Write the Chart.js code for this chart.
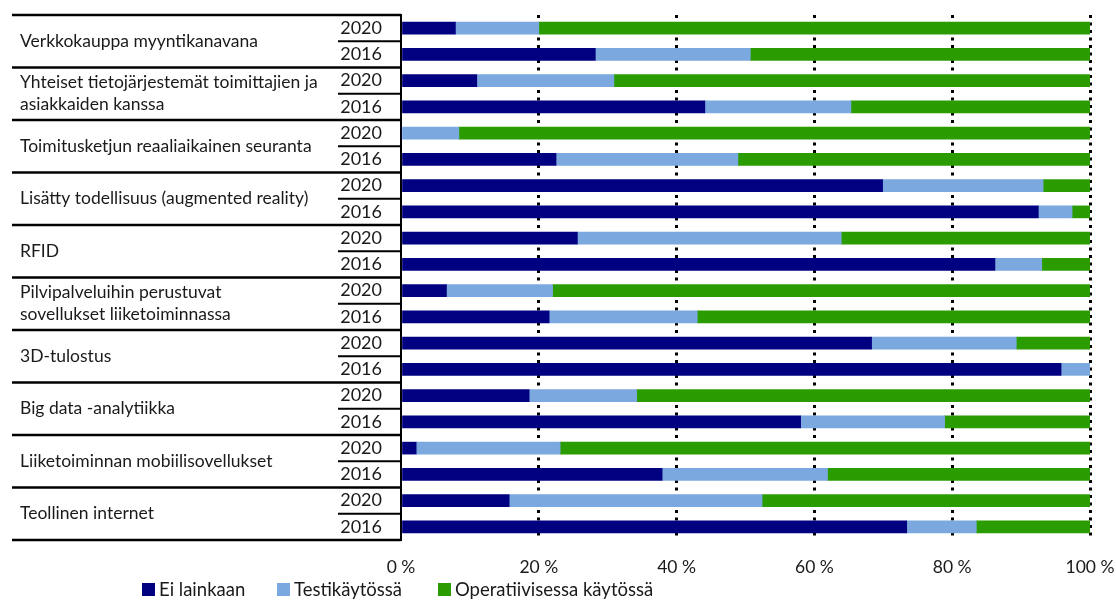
<!DOCTYPE html>
<html>
<head>
<meta charset="utf-8">
<script src="https://cdn.jsdelivr.net/npm/chart.js@4.4.1/dist/chart.umd.min.js"></script>
<style>
html,body{margin:0;padding:0;background:#fff;}
#wrap{position:relative;width:1116px;height:603px;overflow:hidden;}
#c{position:absolute;left:0;top:0;}
#legend{position:absolute;left:0;top:578px;width:1116px;height:22px;font-family:Lato,"Open Sans",sans-serif;font-size:18.5px;color:#1a1a1a;white-space:nowrap;}
#legend .item{position:absolute;top:0;display:flex;align-items:center;height:22px;}
#legend .item:nth-child(1){left:142px;}
#legend .item:nth-child(2){left:277px;}
#legend .item:nth-child(3){left:438px;}
#legend .sw{width:13px;height:13px;margin-right:4px;}
</style>
</head>
<body>
<div id="wrap">
<canvas id="c" width="1116" height="603"></canvas>
<div id="legend"></div>
</div>
<script>
// ---- data ----
const categories = [
  ["Verkkokauppa myyntikanavana"],
  ["Yhteiset tietojärjestemät toimittajien ja", "asiakkaiden kanssa"],
  ["Toimitusketjun reaaliaikainen seuranta"],
  ["Lisätty todellisuus (augmented reality)"],
  ["RFID"],
  ["Pilvipalveluihin perustuvat", "sovellukset liiketoiminnassa"],
  ["3D-tulostus"],
  ["Big data -analytiikka"],
  ["Liiketoiminnan mobiilisovellukset"],
  ["Teollinen internet"]
];
const years = ["2020", "2016"];
const seriesNames = ["Ei lainkaan", "Testikäytössä", "Operatiivisessa käytössä"];
const seriesColors = ["#000080", "#7BA8DE", "#2A9C00"];
const eiLainkaan =     [7.9, 28.2, 11.0, 44.1, 0.0, 22.5, 69.9, 92.5, 25.6, 86.2, 6.6, 21.5, 68.3, 95.8, 18.6, 58.0, 2.2, 37.9, 15.7, 73.4];
const testikaytossa =  [12.1, 22.5, 19.9, 21.2, 8.4, 26.4, 23.3, 4.9, 38.3, 6.8, 15.4, 21.5, 21.0, 4.2, 15.6, 20.9, 20.9, 24.0, 36.7, 10.1];
const operatiivisessa = [80.0, 49.3, 69.1, 34.7, 91.6, 51.1, 6.8, 2.6, 36.1, 7.0, 78.0, 57.0, 10.7, 0.0, 65.8, 21.1, 76.9, 38.1, 47.6, 16.5];
const xTicks = [0, 20, 40, 60, 80, 100];

// row labels (year for each bar)
const rowLabels = [];
categories.forEach(() => years.forEach(y => rowLabels.push(y)));

const FONT = 'Lato, "Open Sans", sans-serif';
const TEXT = '#1a1a1a';

const tablePlugin = {
  id: 'tableLines',
  afterDraw(chart) {
    const ys = chart.scales.y;
    const ctx = chart.ctx;
    const xAxis = ys.right;
    const n = rowLabels.length;
    const mid = i => (ys.getPixelForValue(i) + ys.getPixelForValue(i + 1)) / 2;
    ctx.save();
    ctx.strokeStyle = '#000';
    // category separators
    const catY = [ys.top];
    for (let i = 1; i < n - 1; i += 2) catY.push(mid(i));
    catY.push(ys.bottom);
    ctx.lineWidth = 2.5;
    catY.forEach(y => { ctx.beginPath(); ctx.moveTo(12, y); ctx.lineTo(xAxis, y); ctx.stroke(); });
    // year separators
    ctx.lineWidth = 2;
    for (let i = 0; i < n - 1; i += 2) {
      const y = mid(i);
      ctx.beginPath(); ctx.moveTo(338, y); ctx.lineTo(xAxis, y); ctx.stroke();
    }
    // category labels
    ctx.fillStyle = TEXT;
    ctx.font = '17.5px ' + FONT;
    ctx.textAlign = 'left';
    ctx.textBaseline = 'middle';
    const lh = 22;
    categories.forEach((lines, k) => {
      const cy = (ys.getPixelForValue(2 * k) + ys.getPixelForValue(2 * k + 1)) / 2;
      const y0 = cy - (lines.length - 1) * lh / 2;
      lines.forEach((t, j) => ctx.fillText(t, 20, y0 + j * lh));
    });
    ctx.restore();
  }
};

const chart = new Chart(document.getElementById('c'), {
  type: 'bar',
  data: {
    labels: rowLabels,
    datasets: [
      { label: seriesNames[0], data: eiLainkaan, backgroundColor: seriesColors[0] },
      { label: seriesNames[1], data: testikaytossa, backgroundColor: seriesColors[1] },
      { label: seriesNames[2], data: operatiivisessa, backgroundColor: seriesColors[2] }
    ]
  },
  options: {
    indexAxis: 'y',
    responsive: false,
    animation: false,
    datasets: { bar: { barThickness: 12 } },
    layout: { padding: { top: 15, right: 26, bottom: 25, left: 0 } },
    plugins: { legend: { display: false }, tooltip: { enabled: false } },
    scales: {
      x: {
        stacked: true,
        min: 0, max: 100,
        afterBuildTicks: s => { s.ticks = xTicks.map(v => ({ value: v })); },
        afterFit: s => { s.height = 38; s.paddingLeft = 0; s.paddingRight = 0; },
        ticks: { callback: v => v + ' %', font: { family: FONT, size: 17.5 }, color: TEXT, padding: 17, maxRotation: 0 },
        grid: {
          drawTicks: false,
          lineWidth: 3,
          color: c => (c.tick && c.tick.value === 0) ? 'rgba(0,0,0,0)' : '#000'
        },
        border: { display: false, dash: [3, 4.5] }
      },
      y: {
        stacked: true,
        afterFit: s => { s.width = 401; s.paddingTop = 0; s.paddingBottom = 0; },
        ticks: { font: { family: FONT, size: 18 }, color: TEXT, padding: 19, autoSkip: false },
        grid: { display: false, drawTicks: false },
        border: { display: true, color: '#000', width: 2 }
      }
    }
  },
  plugins: [tablePlugin]
});

// legend
const lg = document.getElementById('legend');
chart.data.datasets.forEach(ds => {
  const it = document.createElement('div'); it.className = 'item';
  const sw = document.createElement('div'); sw.className = 'sw'; sw.style.background = ds.backgroundColor;
  const tx = document.createElement('span'); tx.textContent = ds.label;
  it.appendChild(sw); it.appendChild(tx); lg.appendChild(it);
});
</script>
</body>
</html>
